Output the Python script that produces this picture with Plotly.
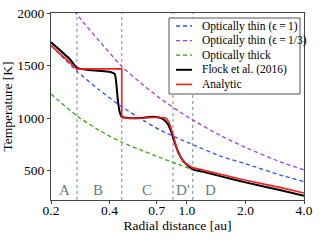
import numpy as np
import plotly.graph_objects as go

# ---- data ----
r_thin1 = [0.2, 0.272, 0.35, 0.46, 0.6, 0.724, 1.0, 1.5, 2.0, 3.0, 4.0]
T_thin1 = [1690, 1445, 1275, 1110, 975, 888, 770, 635, 565, 460, 395]

r_thin3 = [0.25, 0.3, 0.35, 0.46, 0.6, 0.724, 1.0, 1.5, 2.0, 3.0, 4.0]
T_thin3 = [2070, 1890, 1745, 1495, 1310, 1191, 1015, 830, 720, 585, 507]

r_thick = [0.2, 0.272, 0.356, 0.462, 0.6, 0.724, 0.9, 1.07]
T_thick = [1229, 1020, 880, 770, 685, 625, 560, 508]

r_flock = [0.2, 0.25, 0.272, 0.3, 0.35, 0.4, 0.425, 0.435, 0.441, 0.452, 0.462, 0.486,
           0.52, 0.6, 0.66, 0.72, 0.76, 0.8, 0.83, 0.86, 0.9, 0.95, 1.0, 1.07,
           1.2, 1.5, 2.0, 3.0, 4.0]
T_flock = [1721, 1560, 1478, 1462, 1450, 1440, 1420, 1300, 1175, 1050, 1012, 1003,
           998, 1003, 1012, 1005, 985, 940, 870, 780, 680, 600, 555, 512,
           490, 445, 388, 315, 260]

r_anal = [0.2, 0.25, 0.272, 0.3, 0.4, 0.462, 0.4621, 0.5, 0.6, 0.7, 0.78, 0.81,
          0.84, 0.87, 0.9, 0.95, 1.0, 1.07, 1.2, 1.5, 2.0, 3.0, 4.0]
T_anal = [1690, 1530, 1466, 1468, 1470, 1470, 1005, 998, 1000, 1008, 1000, 960,
          870, 760, 670, 600, 560, 528, 505, 462, 408, 340, 287]

region_r = [0.272, 0.462, 0.848, 1.07]
label_r = [0.235, 0.348, 0.623, 0.955, 1.325]
label_txt = ["A", "B", "C", "D′", "D"]
label_T = 318

xticks = [0.2, 0.4, 0.7, 1.0, 2.0, 4.0]
xtick_txt = ["0.2", "0.4", "0.7", "1.0", "2.0", "4.0"]
yticks = [500, 1000, 1500, 2000]

names = ["Optically thin (ϵ\u2009=\u20091)", "Optically thin (ϵ\u2009=\u20091/3)",
         "Optically thick", "Flock et al. (2016)", "Analytic"]

FONT = "Liberation Serif, Times New Roman, serif"
DASH = "4px,3px"
styles = [
    dict(color="#2a55ff", width=1.3, dash=DASH),
    dict(color="#a040f0", width=1.3, dash=DASH),
    dict(color="#33aa11", width=1.3, dash=DASH),
    dict(color="black", width=2),
    dict(color="#ff1a1a", width=1.6),
]
series = [(r_thin1, T_thin1), (r_thin3, T_thin3), (r_thick, T_thick),
          (r_flock, T_flock), (r_anal, T_anal)]

W, H = 320, 240
ML, MR, MT, MB = 51, 16, 13, 40
PW, PH = W - ML - MR, H - MT - MB

fig = go.Figure()

for rv in region_r:
    fig.add_trace(go.Scatter(x=[rv, rv], y=[220, 2000], mode="lines",
                             line=dict(color="#9aa6a6", width=1.3, dash="dot"),
                             showlegend=False, hoverinfo="skip"))

for i, ((rx, ty), nm, st) in enumerate(zip(series, names, styles)):
    ln = dict(st)
    if i < 4:
        ln["shape"] = "spline"
        ln["smoothing"] = 0.6
    fig.add_trace(go.Scatter(x=rx, y=ty, mode="lines", name=nm, line=ln,
                             showlegend=False))

for rv, t in zip(label_r, label_txt):
    fig.add_annotation(x=np.log10(rv), y=label_T, text=t, showarrow=False,
                       font=dict(family=FONT, size=15, color="#6f7a80"))

# compact legend box (matplotlib style)
def px(xp):
    return (xp - ML) / PW
def py(yp):
    return 1 - (yp - MT) / PH

fig.add_shape(type="rect", xref="paper", yref="paper",
              x0=px(169), x1=px(300), y0=py(94), y1=py(18),
              fillcolor="white", line=dict(color="#555", width=1), layer="above")
for k, (nm, st) in enumerate(zip(names, styles)):
    yy = 26 + k * 14.6
    fig.add_shape(type="line", xref="paper", yref="paper",
                  x0=px(176), x1=px(192), y0=py(yy), y1=py(yy),
                  line=dict(color=st["color"], width=st["width"],
                            dash=st.get("dash", "solid")), layer="above")
    fig.add_annotation(xref="paper", yref="paper", x=px(200), y=py(yy),
                       xanchor="left", yanchor="middle", text=nm, showarrow=False,
                       font=dict(family=FONT, size=11.5, color="black"))

fig.update_layout(
    width=W, height=H,
    margin=dict(l=ML, r=MR, t=MT, b=MB),
    paper_bgcolor="white", plot_bgcolor="white",
    font=dict(family=FONT, size=13.5, color="black"),
    showlegend=False,
)
fig.update_xaxes(type="log", range=[np.log10(0.2), np.log10(4.0)],
                 tickvals=xticks, ticktext=xtick_txt, automargin=False,
                 showgrid=False, zeroline=False,
                 showline=True, linecolor="#444", linewidth=1, mirror=True,
                 ticks="outside", ticklen=3, tickcolor="#444",
                 ticklabelstandoff=-5,
                 title=dict(text="Radial distance [au]", font=dict(size=13.5), standoff=0))
fig.update_yaxes(range=[220, 2000], tickvals=yticks, automargin=False,
                 showgrid=False, zeroline=False,
                 showline=True, linecolor="#444", linewidth=1, mirror=True,
                 ticks="outside", ticklen=3, tickcolor="#444",
                 title=dict(text="Temperature [K]", font=dict(size=13.5), standoff=2))

fig.write_html("out.html", config={"displayModeBar": False},
               post_script="document.body.style.margin='0';document.body.style.overflow='hidden';")
